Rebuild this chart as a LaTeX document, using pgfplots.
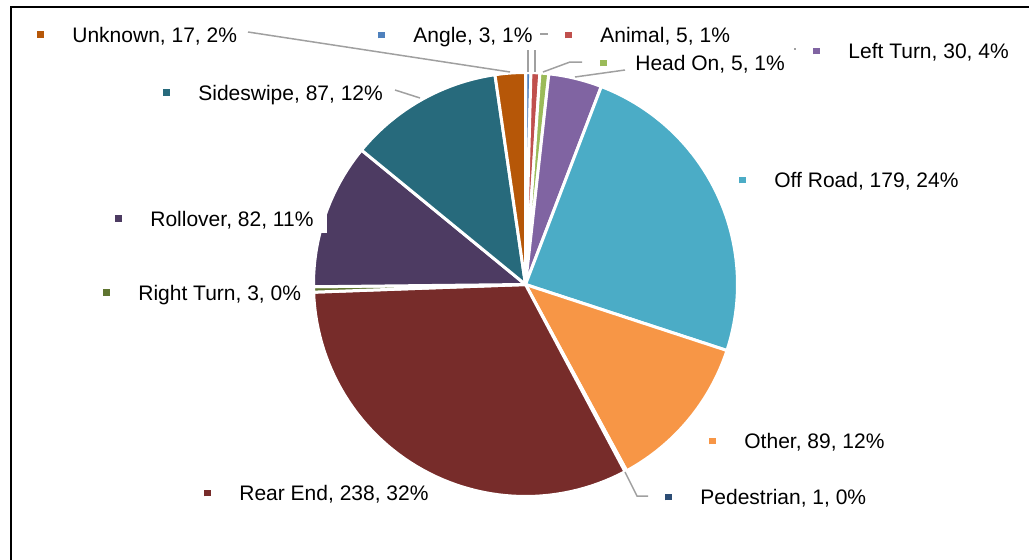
\documentclass[border=0pt]{standalone}
\usepackage{pgfplots}
\pgfplotsset{compat=1.18}
\usepackage{pgfplotstable}
\usepackage{fontspec}
\setmainfont{Liberation Sans}

\definecolor{cAngle}{HTML}{4F81BD}
\definecolor{cAnimal}{HTML}{C0504D}
\definecolor{cHeadOn}{HTML}{9BBB59}
\definecolor{cLeftTurn}{HTML}{8064A2}
\definecolor{cOffRoad}{HTML}{4BACC6}
\definecolor{cOther}{HTML}{F79646}
\definecolor{cPedestrian}{HTML}{2C4D75}
\definecolor{cRearEnd}{HTML}{772C2A}
\definecolor{cRightTurn}{HTML}{5F7530}
\definecolor{cRollover}{HTML}{4D3B62}
\definecolor{cSideswipe}{HTML}{276A7C}
\definecolor{cUnknown}{HTML}{B65708}
\definecolor{leader}{RGB}{160,160,160}

\pgfplotstableread[col sep=comma]{
name,value,color
Angle,3,cAngle
Animal,5,cAnimal
Head On,5,cHeadOn
Left Turn,30,cLeftTurn
Off Road,179,cOffRoad
Other,89,cOther
Pedestrian,1,cPedestrian
Rear End,238,cRearEnd
Right Turn,3,cRightTurn
Rollover,82,cRollover
Sideswipe,87,cSideswipe
Unknown,17,cUnknown
}\piedata

\newcommand{\lab}[4]{\node[anchor=base west, inner sep=0pt, font=\fontsize{10.5}{12}\selectfont] at (axis cs:#1,#2) {\textcolor{#3}{\raisebox{2.1pt}{\rule{3.25pt}{3.25pt}}}\hspace{14.25pt}#4};}

\begin{document}
\begin{tikzpicture}
% total and slice angles from the table
\pgfplotstablegetrowsof{\piedata}
\pgfmathtruncatemacro{\nlast}{\pgfplotsretval-1}
\def\total{0}
\pgfplotsforeachungrouped \i in {0,...,\nlast}{%
  \pgfplotstablegetelem{\i}{value}\of\piedata
  \pgfmathsetmacro{\total}{\total+\pgfplotsretval}%
}
\def\cum{0}
\pgfplotsforeachungrouped \i in {0,...,\nlast}{%
  \pgfplotstablegetelem{\i}{value}\of\piedata
  \let\v\pgfplotsretval
  \pgfmathsetmacro{\a}{90-360*(\cum/\total)}%
  \pgfmathsetmacro{\cum}{\cum+\v}%
  \pgfmathsetmacro{\b}{90-360*(\cum/\total)}%
  \expandafter\xdef\csname a\i\endcsname{\a}%
  \expandafter\xdef\csname b\i\endcsname{\b}%
  \pgfplotstablegetelem{\i}{color}\of\piedata
  \expandafter\xdef\csname col\i\endcsname{\pgfplotsretval}%
}
\begin{axis}[x=0.5pt, y=0.5pt, xmin=0, xmax=1029, ymin=0, ymax=559,
  hide axis, clip=false]
\coordinate (ll) at (axis cs:0,0);
\coordinate (ur) at (axis cs:1029,559);
\pgfplotsforeachungrouped \i in {0,...,\nlast}{%
  \edef\cmd{\noexpand\addplot[fill=\csname col\i\endcsname, draw=white, line width=1.5pt, line join=round, domain=\csname b\i\endcsname:\csname a\i\endcsname, samples=60, variable=\noexpand\t] ({525.5+212*cos(\noexpand\t)},{274.5+212*sin(\noexpand\t)}) -- (axis cs:525.5,274.5) -- cycle;}%
  \cmd
}
% frame
\draw[black, line width=1pt] (axis cs:10.5,-10) -- (axis cs:10.5,552) -- (axis cs:1040,552);
% leader lines
\draw[leader, line width=0.75pt] (axis cs:248,527) -- (axis cs:510,487);
\draw[leader, line width=0.75pt] (axis cs:395,469) -- (axis cs:420,461);
\draw[leader, line width=0.75pt] (axis cs:528,509) -- (axis cs:528,487);
\draw[leader, line width=0.75pt] (axis cs:535,509) -- (axis cs:535,487);
\draw[leader, line width=0.75pt] (axis cs:540,525) -- (axis cs:548,525);
\draw[leader, line width=0.75pt] (axis cs:543,487) -- (axis cs:570,497) -- (axis cs:582,497);
\draw[leader, line width=0.75pt] (axis cs:575,482) -- (axis cs:625,489);
\draw[leader, line width=0.75pt] (axis cs:794,510) -- (axis cs:796,510);
\draw[leader, line width=0.75pt] (axis cs:625,87) -- (axis cs:637,63) -- (axis cs:648,63);
% white label background over the pie edge (Rollover)
\fill[white] (axis cs:300,326) rectangle (axis cs:327,349);
% labels
\lab{37}{517}{cUnknown}{Unknown, 17, 2\%}
\lab{378}{516.5}{cAngle}{Angle, 3, 1\%}
\lab{565}{516.5}{cAnimal}{Animal, 5, 1\%}
\lab{600}{488.5}{cHeadOn}{Head On, 5, 1\%}
\lab{813}{500.5}{cLeftTurn}{Left Turn, 30, 4\%}
\lab{739}{371.5}{cOffRoad}{Off Road, 179, 24\%}
\lab{709}{110.5}{cOther}{Other, 89, 12\%}
\lab{665}{54.5}{cPedestrian}{Pedestrian, 1, 0\%}
\lab{204}{58.5}{cRearEnd}{Rear End, 238, 32\%}
\lab{103}{259}{cRightTurn}{Right Turn, 3, 0\%}
\lab{115}{333}{cRollover}{Rollover, 82, 11\%}
\lab{163}{459}{cSideswipe}{Sideswipe, 87, 12\%}
\end{axis}
\pgfresetboundingbox
\path (ll) rectangle (ur);
\end{tikzpicture}
\end{document}
